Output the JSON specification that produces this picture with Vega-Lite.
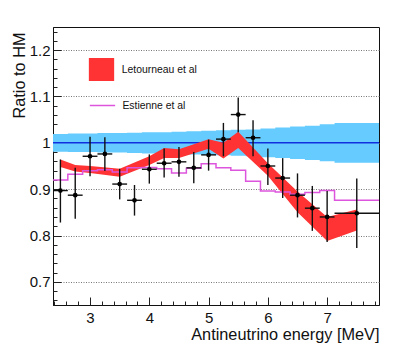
{
  "$schema": "https://vega.github.io/schema/vega-lite/v6.json",
  "autosize": {"type": "none"},
  "padding": {"left": 53, "top": 27, "right": 28, "bottom": 57},
  "width": 326,
  "height": 278,
  "config": {
    "font": "Liberation Sans",
    "view": {"stroke": "#111", "strokeWidth": 1},
    "axis": {"labelFont": "Liberation Sans", "titleFont": "Liberation Sans", "labelColor": "#111", "titleColor": "#111", "tickColor": "#222", "domainColor": "#111"}
  },
  "datasets": {
    "blue": [
      {"x": 2.375, "lo": 0.981, "hi": 1.019},
      {"x": 2.625, "lo": 0.980, "hi": 1.020},
      {"x": 2.875, "lo": 0.980, "hi": 1.020},
      {"x": 3.125, "lo": 0.979, "hi": 1.021},
      {"x": 3.375, "lo": 0.979, "hi": 1.021},
      {"x": 3.625, "lo": 0.978, "hi": 1.022},
      {"x": 3.875, "lo": 0.977, "hi": 1.023},
      {"x": 4.125, "lo": 0.977, "hi": 1.023},
      {"x": 4.375, "lo": 0.976, "hi": 1.024},
      {"x": 4.625, "lo": 0.975, "hi": 1.025},
      {"x": 4.875, "lo": 0.974, "hi": 1.026},
      {"x": 5.125, "lo": 0.973, "hi": 1.027},
      {"x": 5.375, "lo": 0.972, "hi": 1.028},
      {"x": 5.625, "lo": 0.971, "hi": 1.029},
      {"x": 5.875, "lo": 0.969, "hi": 1.031},
      {"x": 6.125, "lo": 0.967, "hi": 1.033},
      {"x": 6.375, "lo": 0.965, "hi": 1.035},
      {"x": 6.625, "lo": 0.963, "hi": 1.037},
      {"x": 6.875, "lo": 0.960, "hi": 1.040},
      {"x": 7.125, "lo": 0.957, "hi": 1.043},
      {"x": 7.875, "lo": 0.957, "hi": 1.043}
    ],
    "red": [
      {"e": 2.5, "lo": 0.948, "hi": 0.964, "s": "Letourneau et al"},
      {"e": 2.75, "lo": 0.938, "hi": 0.952, "s": "Letourneau et al"},
      {"e": 3.0, "lo": 0.935, "hi": 0.950, "s": "Letourneau et al"},
      {"e": 3.5, "lo": 0.927, "hi": 0.944, "s": "Letourneau et al"},
      {"e": 4.0, "lo": 0.952, "hi": 0.971, "s": "Letourneau et al"},
      {"e": 4.25, "lo": 0.967, "hi": 0.989, "s": "Letourneau et al"},
      {"e": 4.5, "lo": 0.967, "hi": 0.986, "s": "Letourneau et al"},
      {"e": 5.0, "lo": 0.987, "hi": 1.008, "s": "Letourneau et al"},
      {"e": 5.25, "lo": 0.966, "hi": 1.000, "s": "Letourneau et al"},
      {"e": 5.5, "lo": 0.989, "hi": 1.024, "s": "Letourneau et al"},
      {"e": 6.0, "lo": 0.929, "hi": 0.956, "s": "Letourneau et al"},
      {"e": 6.5, "lo": 0.850, "hi": 0.895, "s": "Letourneau et al"},
      {"e": 7.0, "lo": 0.788, "hi": 0.840, "s": "Letourneau et al"},
      {"e": 7.5, "lo": 0.811, "hi": 0.856, "s": "Letourneau et al"}
    ],
    "mag": [
      {"e": 2.375, "v": 0.920, "s": "Estienne et al"},
      {"e": 2.625, "v": 0.932, "s": "Estienne et al"},
      {"e": 2.875, "v": 0.940, "s": "Estienne et al"},
      {"e": 3.125, "v": 0.942, "s": "Estienne et al"},
      {"e": 3.375, "v": 0.937, "s": "Estienne et al"},
      {"e": 3.625, "v": 0.946, "s": "Estienne et al"},
      {"e": 3.875, "v": 0.947, "s": "Estienne et al"},
      {"e": 4.125, "v": 0.944, "s": "Estienne et al"},
      {"e": 4.375, "v": 0.935, "s": "Estienne et al"},
      {"e": 4.625, "v": 0.945, "s": "Estienne et al"},
      {"e": 4.875, "v": 0.955, "s": "Estienne et al"},
      {"e": 5.125, "v": 0.946, "s": "Estienne et al"},
      {"e": 5.375, "v": 0.941, "s": "Estienne et al"},
      {"e": 5.625, "v": 0.917, "s": "Estienne et al"},
      {"e": 5.875, "v": 0.896, "s": "Estienne et al"},
      {"e": 6.125, "v": 0.894, "s": "Estienne et al"},
      {"e": 6.375, "v": 0.889, "s": "Estienne et al"},
      {"e": 6.625, "v": 0.893, "s": "Estienne et al"},
      {"e": 6.875, "v": 0.897, "s": "Estienne et al"},
      {"e": 7.125, "v": 0.876, "s": "Estienne et al"},
      {"e": 7.875, "v": 0.876, "s": "Estienne et al"}
    ],
    "pts": [
      {"e": 2.5, "xlo": 2.375, "xhi": 2.625, "y": 0.897, "ylo": 0.828, "yhi": 0.964},
      {"e": 2.75, "xlo": 2.625, "xhi": 2.875, "y": 0.887, "ylo": 0.836, "yhi": 0.946},
      {"e": 3.0, "xlo": 2.875, "xhi": 3.125, "y": 0.971, "ylo": 0.928, "yhi": 1.013},
      {"e": 3.25, "xlo": 3.125, "xhi": 3.375, "y": 0.976, "ylo": 0.939, "yhi": 1.012},
      {"e": 3.5, "xlo": 3.375, "xhi": 3.625, "y": 0.911, "ylo": 0.878, "yhi": 0.944},
      {"e": 3.75, "xlo": 3.625, "xhi": 3.875, "y": 0.876, "ylo": 0.843, "yhi": 0.909},
      {"e": 4.0, "xlo": 3.875, "xhi": 4.125, "y": 0.943, "ylo": 0.912, "yhi": 0.975},
      {"e": 4.25, "xlo": 4.125, "xhi": 4.375, "y": 0.956, "ylo": 0.925, "yhi": 0.988},
      {"e": 4.5, "xlo": 4.375, "xhi": 4.625, "y": 0.959, "ylo": 0.927, "yhi": 0.991},
      {"e": 4.75, "xlo": 4.625, "xhi": 4.875, "y": 0.946, "ylo": 0.913, "yhi": 0.980},
      {"e": 5.0, "xlo": 4.875, "xhi": 5.125, "y": 0.974, "ylo": 0.940, "yhi": 1.007},
      {"e": 5.25, "xlo": 5.125, "xhi": 5.375, "y": 1.008, "ylo": 0.971, "yhi": 1.043},
      {"e": 5.5, "xlo": 5.375, "xhi": 5.625, "y": 1.061, "ylo": 1.023, "yhi": 1.098},
      {"e": 5.75, "xlo": 5.625, "xhi": 5.875, "y": 1.011, "ylo": 0.971, "yhi": 1.049},
      {"e": 6.0, "xlo": 5.875, "xhi": 6.125, "y": 0.950, "ylo": 0.909, "yhi": 0.988},
      {"e": 6.25, "xlo": 6.125, "xhi": 6.375, "y": 0.924, "ylo": 0.881, "yhi": 0.967},
      {"e": 6.5, "xlo": 6.375, "xhi": 6.625, "y": 0.887, "ylo": 0.839, "yhi": 0.934},
      {"e": 6.75, "xlo": 6.625, "xhi": 6.875, "y": 0.859, "ylo": 0.810, "yhi": 0.907},
      {"e": 7.0, "xlo": 6.875, "xhi": 7.125, "y": 0.840, "ylo": 0.786, "yhi": 0.896},
      {"e": 7.5, "xlo": 7.125, "xhi": 7.875, "y": 0.848, "ylo": 0.773, "yhi": 0.923}
    ],
    "one": [{"v": 1}]
  },
  "resolve": {"axis": {"x": "independent", "y": "independent"}},
  "layer": [
    {
      "data": {"name": "blue"},
      "mark": {"type": "area", "interpolate": "step-after", "color": "#66ccff", "opacity": 1},
      "encoding": {
        "x": {"field": "x", "type": "quantitative", "scale": {"domain": [2.375, 7.875], "nice": false, "zero": false},
          "axis": {"orient": "bottom", "values": [3, 4, 5, 6, 7], "ticks": false, "grid": false, "domain": true, "labelFontSize": 15, "labelPadding": 5, "title": "Antineutrino energy [MeV]", "titleFontSize": 16.3, "titleFontWeight": "normal", "titleAlign": "right", "titleBaseline": "alphabetic", "titleX": 326, "titleY": 34.5}},
        "y": {"field": "lo", "type": "quantitative", "scale": {"domain": [0.65, 1.25], "nice": false, "zero": false},
          "axis": {"orient": "left", "values": [0.7, 0.8, 0.9, 1, 1.1, 1.2], "labelExpr": "toString(datum.value)", "ticks": false, "grid": true, "gridDash": [1, 1.5], "gridColor": "#777", "domain": true, "labelFontSize": 15, "labelPadding": 3, "title": "Ratio to HM", "titleFontSize": 16.3, "titleFontWeight": "normal", "titleAngle": -90, "titleAlign": "right", "titleBaseline": "alphabetic", "titleX": -29, "titleY": 5}},
        "y2": {"field": "hi"}
      }
    },
    {
      "data": {"name": "one"},
      "mark": {"type": "rule", "color": "#1030e0", "strokeWidth": 1.5},
      "encoding": {"y": {"field": "v", "type": "quantitative", "axis": null}}
    },
    {
      "data": {"name": "red"},
      "mark": {"type": "area", "interpolate": "linear"},
      "encoding": {
        "x": {"field": "e", "type": "quantitative",
          "axis": {"orient": "bottom", "values": [3, 4, 5, 6, 7], "ticks": true, "tickSize": -8, "labels": false, "grid": false, "domain": false, "title": null}},
        "y": {"field": "hi", "type": "quantitative",
          "axis": {"orient": "left", "values": [0.7, 0.8, 0.9, 1, 1.1, 1.2], "ticks": true, "tickSize": -8, "labels": false, "grid": false, "domain": false, "title": null}},
        "y2": {"field": "lo"},
        "fill": {"field": "s", "type": "nominal", "scale": {"domain": ["Letourneau et al"], "range": ["#ff3333"]},
          "legend": {"orient": "none", "legendX": 37, "legendY": 31, "title": null, "padding": 0, "symbolType": "M-1.1,-1H1.1V1H-1.1Z", "symbolSize": 529, "symbolStrokeWidth": 0, "symbolOpacity": 1, "labelFontSize": 10.4, "labelFont": "Liberation Sans", "labelColor": "#111", "labelOffset": 8.7}}
      }
    },
    {
      "data": {"name": "mag"},
      "mark": {"type": "line", "interpolate": "step-after", "strokeWidth": 1.5},
      "encoding": {
        "x": {"field": "e", "type": "quantitative",
          "axis": {"orient": "bottom", "values": [2.4, 2.6, 2.8, 3.2, 3.4, 3.6, 3.8, 4.2, 4.4, 4.6, 4.8, 5.2, 5.4, 5.6, 5.8, 6.2, 6.4, 6.6, 6.8, 7.2, 7.4, 7.6, 7.8], "ticks": true, "tickSize": -4, "labels": false, "grid": false, "domain": false, "title": null}},
        "y": {"field": "v", "type": "quantitative",
          "axis": {"orient": "left", "values": [0.66, 0.68, 0.72, 0.74, 0.76, 0.78, 0.82, 0.84, 0.86, 0.88, 0.92, 0.94, 0.96, 0.98, 1.02, 1.04, 1.06, 1.08, 1.12, 1.14, 1.16, 1.18, 1.22, 1.24], "ticks": true, "tickSize": -4, "labels": false, "grid": false, "domain": false, "title": null}},
        "stroke": {"field": "s", "type": "nominal", "scale": {"domain": ["Estienne et al"], "range": ["#dd55dd"]},
          "legend": {"orient": "none", "legendX": 36, "legendY": 65, "title": null, "padding": 0, "symbolType": "stroke", "symbolSize": 640, "symbolStrokeWidth": 1.5, "labelFontSize": 10.4, "labelFont": "Liberation Sans", "labelColor": "#111", "labelOffset": 6.4}}
      }
    },
    {
      "data": {"name": "pts"},
      "mark": {"type": "rule", "color": "#111", "strokeWidth": 1.4},
      "encoding": {
        "x": {"field": "e", "type": "quantitative", "axis": null},
        "y": {"field": "ylo", "type": "quantitative", "axis": null},
        "y2": {"field": "yhi"}
      }
    },
    {
      "data": {"name": "pts"},
      "mark": {"type": "rule", "color": "#111", "strokeWidth": 1.4},
      "encoding": {
        "x": {"field": "xlo", "type": "quantitative", "axis": null},
        "x2": {"field": "xhi"},
        "y": {"field": "y", "type": "quantitative", "axis": null}
      }
    },
    {
      "data": {"name": "pts"},
      "mark": {"type": "point", "filled": true, "color": "#000", "size": 22, "opacity": 1},
      "encoding": {
        "x": {"field": "e", "type": "quantitative", "axis": null},
        "y": {"field": "y", "type": "quantitative", "axis": null}
      }
    }
  ]
}
